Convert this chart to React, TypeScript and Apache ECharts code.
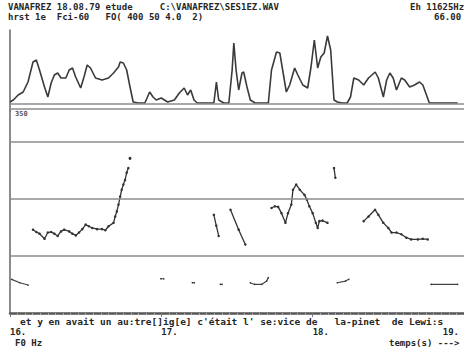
import React, { useEffect, useRef } from "react";
import * as echarts from "echarts";

// ---- data (time in s, amplitude in arbitrary units, F0 in Hz) ----
const timeTicks = [16, 17, 18, 19];
const f0GridValues = [100, 200, 300];

const envelope: [number, number][] = [
  [16.0, 1], [16.022, 3], [16.054, 8], [16.087, 11], [16.119, 21], [16.152, 41], [16.174, 43],
  [16.195, 33], [16.228, 16], [16.25, 6], [16.272, 20], [16.293, 28], [16.315, 30], [16.337, 25],
  [16.369, 25], [16.391, 33], [16.413, 35], [16.434, 26], [16.467, 15], [16.489, 26], [16.51, 38],
  [16.532, 35], [16.565, 25], [16.608, 23], [16.651, 25], [16.684, 30], [16.717, 36], [16.728, 41],
  [16.749, 40], [16.771, 33], [16.793, 16], [16.814, 1], [16.847, 0], [16.891, 0], [16.923, 11],
  [16.945, 6], [16.966, 3], [16.999, 5], [17.042, 1], [17.086, 3], [17.119, 10], [17.151, 15],
  [17.173, 8], [17.194, 13], [17.216, 3], [17.238, 0], [17.347, 0], [17.364, 21], [17.379, 3],
  [17.412, 0], [17.446, 0], [17.468, 33], [17.479, 60], [17.494, 33], [17.511, 13], [17.533, 30],
  [17.544, 31], [17.566, 16], [17.588, 3], [17.62, 0], [17.707, 0], [17.728, 33], [17.761, 51],
  [17.783, 50], [17.805, 30], [17.826, 11], [17.848, 18], [17.881, 35], [17.902, 28], [17.935, 18],
  [17.967, 15], [17.989, 36], [18.011, 63], [18.033, 35], [18.054, 46], [18.076, 50], [18.098, 67],
  [18.119, 53], [18.141, 3], [18.163, 1], [18.195, 0], [18.228, 0], [18.25, 6], [18.272, 25],
  [18.304, 23], [18.337, 18], [18.369, 25], [18.413, 31], [18.434, 25], [18.467, 6], [18.489, 23],
  [18.51, 30], [18.532, 25], [18.554, 13], [18.586, 25], [18.608, 23], [18.641, 16], [18.673, 18],
  [18.706, 21], [18.728, 18], [18.771, 0], [18.958, 0],
];

const f0SegA: [number, number][] = [
  [16.152, 146], [16.174, 142], [16.195, 139], [16.228, 130], [16.25, 141], [16.272, 142],
  [16.293, 139], [16.315, 135], [16.337, 143], [16.358, 146], [16.391, 143], [16.412, 139],
  [16.435, 136], [16.456, 141], [16.478, 147], [16.5, 155], [16.521, 152], [16.543, 149],
  [16.575, 147], [16.608, 147], [16.63, 145], [16.651, 152], [16.684, 158], [16.695, 169],
  [16.706, 178], [16.717, 190], [16.728, 204], [16.738, 216], [16.749, 225], [16.76, 233],
  [16.771, 246], [16.782, 254],
];
const f0PointA: [number, number][] = [[16.793, 271]];
const f0SegB: [number, number][] = [[17.347, 172], [17.363, 153], [17.379, 135]];
const f0SegC: [number, number][] = [[17.457, 181], [17.511, 146], [17.555, 120]];
const f0SegD: [number, number][] = [
  [17.728, 184], [17.75, 187], [17.772, 186], [17.794, 175], [17.82, 158], [17.837, 175],
  [17.859, 190], [17.87, 216], [17.891, 225], [17.915, 216], [17.946, 207], [17.961, 199],
  [17.978, 187], [18.0, 175], [18.021, 158], [18.033, 149], [18.044, 161], [18.065, 162],
  [18.098, 158],
];
const f0SegMark: [number, number][] = [[18.141, 254], [18.15, 237]];
const f0SegE: [number, number][] = [
  [18.337, 161], [18.369, 169], [18.412, 181], [18.434, 172], [18.467, 158], [18.5, 149],
  [18.521, 141], [18.554, 141], [18.586, 138], [18.619, 132], [18.651, 129], [18.695, 129],
  [18.728, 130], [18.76, 129],
];
const lowSegF: [number, number][] = [[16.011, 59], [16.065, 53], [16.119, 49]];
const lowSegG: [number, number][] = [[16.997, 60], [17.016, 60]];
const lowSegH: [number, number][] = [[17.205, 53], [17.218, 53]];
const lowSegI: [number, number][] = [[17.39, 50], [17.401, 50]];
const lowSegJ: [number, number][] = [[17.588, 53], [17.616, 50], [17.663, 50], [17.696, 56], [17.707, 62]];
const lowSegK: [number, number][] = [[18.163, 53], [18.217, 56], [18.239, 59]];
const lowSegL: [number, number][] = [[18.782, 50], [18.958, 50]];

const f0Segments = [f0SegA, f0SegB, f0SegC, f0SegD, f0SegMark, f0SegE];
const lowSegments = [lowSegF, lowSegG, lowSegH, lowSegI, lowSegJ, lowSegK, lowSegL];

const headerLine1 = "VANAFREZ 18.08.79 etude     C:\\VANAFREZ\\SES1EZ.WAV";
const headerLine2 = "hrst 1e  Fci-60   FO( 400 50 4.0  2)";
const headerRight1 = "Eh 11625Hz";
const headerRight2 = "66.00";
const transcript = "et y en avait un au:tre[]ig[e] c'était l' se:vice de   la-pinet  de Lewi:s";
const topF0Label = "350";
const yUnitLabel = "F0 Hz";
const xUnitLabel = "temps(s) --->";

const MONO = '"DejaVu Sans Mono", monospace';
const INK = "#262626";

export default function App() {
  const ref = useRef<HTMLDivElement>(null);
  useEffect(() => {
    if (!ref.current) return;
    const chart = echarts.init(ref.current, undefined, { renderer: "svg" });
    const txt = (text: string, x: number, y: number, size = 9, fill = INK) => ({
      type: "text",
      x,
      y,
      silent: true,
      style: { text, font: `bold ${size}px ${MONO}`, fill, verticalAlign: "middle" },
    });
    const contourStyle = {
      type: "line",
      xAxisIndex: 1,
      yAxisIndex: 1,
      symbol: "circle",
      symbolSize: 2.5,
      silent: true,
      lineStyle: { color: "#333", width: 1.3 },
      itemStyle: { color: "#333" },
    };
    const option: any = {
      animation: false,
      backgroundColor: "#ffffff",
      grid: [
        { left: 10, right: -6, top: 30, height: 81 },
        { left: 10, right: -6, top: 111, height: 202 },
      ],
      xAxis: [
        { gridIndex: 0, type: "value", min: 16, max: 19, show: false },
        {
          gridIndex: 1,
          type: "value",
          min: 16,
          max: 19,
          interval: 1,
          axisLine: { show: true, lineStyle: { color: "#555", width: 2.5 } },
          axisTick: { show: true, length: 4, lineStyle: { color: "#777" } },
          minorTick: { show: true, splitNumber: 20, length: 2, lineStyle: { color: "#aaa" } },
          splitLine: { show: false },
          axisLabel: {
            show: true,
            margin: 14,
            align: "left",
            alignMaxLabel: "right",
            color: INK,
            fontFamily: MONO,
            fontWeight: "bold",
            fontSize: 9,
            formatter: (v: number) => (v === timeTicks[timeTicks.length - 1] ? `{m|${v}.}` : `${v}.`),
            rich: { m: { padding: [0, 5, 0, 0], color: INK, fontFamily: MONO, fontWeight: "bold", fontSize: 9 } },
          },
        },
      ],
      yAxis: [
        {
          gridIndex: 0,
          type: "value",
          min: -8,
          max: 73,
          axisLine: { show: true, lineStyle: { color: "#666", width: 1.5 } },
          axisTick: { show: false },
          axisLabel: { show: false },
          splitLine: { show: false },
        },
        {
          gridIndex: 1,
          type: "value",
          min: 0,
          max: 354,
          axisLine: { show: true, lineStyle: { color: "#666", width: 1.5 } },
          axisTick: { show: false },
          axisLabel: { show: false },
          splitLine: { show: false },
        },
      ],
      series: [
        {
          type: "line",
          xAxisIndex: 0,
          yAxisIndex: 0,
          data: envelope,
          showSymbol: false,
          silent: true,
          lineStyle: { color: "#3a3a3a", width: 1.6 },
          markLine: {
            silent: true,
            symbol: "none",
            label: { show: false },
            lineStyle: { color: "#8c8c8c", width: 1.6, type: "solid" },
            data: [{ yAxis: -1 }, { yAxis: -6 }],
          },
        },
        {
          type: "line",
          xAxisIndex: 1,
          yAxisIndex: 1,
          data: [],
          silent: true,
          markLine: {
            silent: true,
            symbol: "none",
            label: { show: false },
            lineStyle: { color: "#8c8c8c", width: 1.6, type: "solid" },
            data: f0GridValues.map((v) => ({ yAxis: v })),
          },
        },
        ...f0Segments.map((seg) => ({ ...contourStyle, data: seg })),
        { ...contourStyle, data: f0PointA, symbolSize: 3 },
        ...lowSegments.map((seg) => ({ ...contourStyle, data: seg, symbolSize: 1.5, lineStyle: { color: "#444", width: 1.2 } })),
      ],
      graphic: [
        txt(headerLine1, 8, 7),
        txt(headerLine2, 8, 17),
        txt(headerRight1, 410, 7),
        txt(headerRight2, 434, 17),
        txt(topF0Label, 15, 114, 7, "#555"),
        txt(transcript, 20, 321, 9.5),
        txt(yUnitLabel, 15, 343),
        txt(xUnitLabel, 389, 343),
      ],
    };
    chart.setOption(option);
    return () => chart.dispose();
  }, []);
  return (
    <div
      ref={ref}
      style={{ position: "fixed", left: 0, top: 0, width: 464, height: 350, background: "#fff" }}
    />
  );
}
